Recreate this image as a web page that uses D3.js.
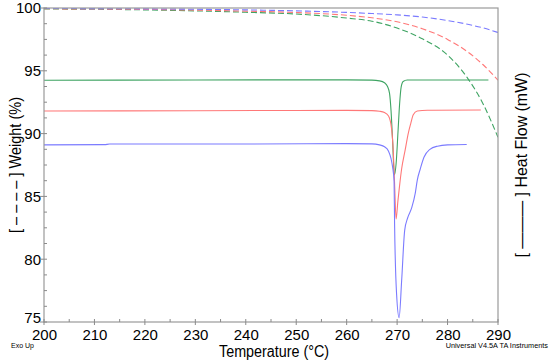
<!DOCTYPE html>
<html>
<head>
<meta charset="utf-8">
<script src="https://cdn.jsdelivr.net/npm/d3@7"></script>
<style>
  body { margin: 0; background: #fff; }
  text { font-family: "Liberation Sans", Arial, sans-serif; fill: #000; }
</style>
</head>
<body>
<svg width="550" height="360"></svg>
<script>
// weight curves (dashed)
var wT = [200, 210, 220, 230, 240, 250, 260, 265, 270, 275, 280, 284, 287, 290];
var wBlue  = [99.96, 99.95, 99.93, 99.9, 99.85, 99.77, 99.65, 99.56, 99.45, 99.28, 99.0, 98.7, 98.42, 98.05];
var wRed   = [99.94, 99.92, 99.89, 99.83, 99.75, 99.64, 99.42, 99.22, 98.9, 98.35, 97.5, 96.5, 95.5, 94.25];
var wGreen = [99.92, 99.9, 99.85, 99.77, 99.66, 99.52, 99.2, 98.95, 98.4, 97.55, 96.25, 94.4, 92.4, 89.7];

// heat flow curves (solid), drawn on the same vertical scale
var hGreenT = [200, 230, 260, 265, 266.5, 267.5, 268.1, 268.5, 268.8, 269.1, 269.45, 269.8, 270.2, 270.5, 270.8, 271.2, 272, 280, 288.1];
var hGreen  = [94.25, 94.27, 94.28, 94.26, 94.2, 94.05, 93.75, 93.2, 91.8, 89.5, 86.7, 87.6, 90.3, 92.4, 93.7, 94.15, 94.27, 94.27, 94.27];

var hRedT = [200, 230, 260, 265, 266.5, 267.5, 268.3, 268.9, 269.25, 269.5, 269.8, 270.15, 270.5, 270.9, 271.6, 272.2, 272.7, 273.2, 274, 276, 286.6];
var hRed  = [91.8, 91.82, 91.85, 91.83, 91.78, 91.68, 91.4, 90.4, 88.5, 86.0, 83.2, 84.6, 85.9, 87.2, 88.7, 90.0, 90.8, 91.5, 91.8, 91.86, 91.88];

var hBlueT = [200, 212, 213, 240, 260, 265, 266.5, 267.5, 268.3, 268.8, 269.1, 269.4, 269.5, 269.9, 270.4, 270.9, 271.5, 272.1, 272.9, 273.6, 274.0, 274.6, 275.3, 276.5, 278, 280, 283.8];
var hBlue  = [89.1, 89.12, 89.17, 89.17, 89.2, 89.18, 89.1, 88.95, 88.6, 88.0, 87.35, 86.2, 82.8, 77.2, 75.35, 78.3, 82.3, 83.3, 84.1, 85.26, 86.3, 87.2, 88.1, 88.75, 89.0, 89.1, 89.13];

var xTicks = [200, 210, 220, 230, 240, 250, 260, 270, 280, 290];
var yTicks = [75, 80, 85, 90, 95, 100];

var colBlue = "#7b7bff", colRed = "#ff7878", colGreen = "#3fa463";

var svg = d3.select("svg");
var x = d3.scaleLinear().domain([200, 290]).range([44, 498]);
var y = d3.scaleLinear().domain([75, 100]).range([322, 8]);

svg.append("clipPath").attr("id", "clip")
  .append("rect").attr("x", x(200)).attr("y", y(100)).attr("width", x(290) - x(200)).attr("height", y(75) - y(100));

var plot = svg.append("g").attr("clip-path", "url(#clip)");

function drawLine(ts, vs, color, dashed) {
  var line = d3.line()
    .x(function(d) { return x(d[0]); })
    .y(function(d) { return y(d[1]); })
    .curve(d3.curveMonotoneX);
  var p = plot.append("path")
    .datum(d3.zip(ts, vs))
    .attr("d", line)
    .attr("fill", "none")
    .attr("stroke", color)
    .attr("stroke-width", 1.1);
  if (dashed) p.attr("stroke-dasharray", "6,3");
}

drawLine(wT, wGreen, colGreen, true);
drawLine(wT, wRed, colRed, true);
drawLine(wT, wBlue, colBlue, true);
drawLine(hGreenT, hGreen, colGreen, false);
drawLine(hRedT, hRed, colRed, false);
drawLine(hBlueT, hBlue, colBlue, false);

// frame
svg.append("rect")
  .attr("x", x(200)).attr("y", y(100))
  .attr("width", x(290) - x(200)).attr("height", y(75) - y(100))
  .attr("fill", "none").attr("stroke", "#9a9a9a").attr("stroke-width", 1.2);

// axes
var xAxis = d3.axisBottom(x).tickValues(xTicks).tickSize(0).tickPadding(7);
var gx = svg.append("g").attr("transform", "translate(0," + y(75) + ")").call(xAxis);
gx.select(".domain").remove();
gx.selectAll("text").attr("font-size", "15px").attr("font-family", "Liberation Sans, Arial, sans-serif").attr("fill", "#000");

var yAxis = d3.axisLeft(y).tickValues(yTicks).tickSize(0).tickPadding(3);
var gy = svg.append("g").attr("transform", "translate(" + x(200) + ",0)").call(yAxis);
gy.select(".domain").remove();
gy.selectAll("text").attr("font-size", "15px").attr("font-family", "Liberation Sans, Arial, sans-serif").attr("fill", "#000");
// lift the bottom label so it clears "200"
gy.selectAll(".tick").filter(function(d) { return d === 75; }).select("text").attr("y", -4);

// tick marks
var tickCol = "#8a8a8a";
d3.range(200, 291, 5).forEach(function(t) {
  var major = t % 10 === 0;
  svg.append("line").attr("x1", x(t)).attr("x2", x(t))
    .attr("y1", y(75) - 3).attr("y2", y(75) + (major ? 3 : 0))
    .attr("stroke", tickCol).attr("stroke-width", 1);
});
d3.range(75, 100.01, 1.25).forEach(function(v) {
  var major = Math.abs(v % 5) < 0.01;
  svg.append("line").attr("x1", x(200) - (major ? 4 : 0)).attr("x2", x(200) + 3)
    .attr("y1", y(v)).attr("y2", y(v))
    .attr("stroke", tickCol).attr("stroke-width", 1);
});

// titles
svg.append("text")
  .attr("x", 274).attr("y", 357)
  .attr("text-anchor", "middle")
  .attr("font-size", "16px")
  .attr("textLength", 110).attr("lengthAdjust", "spacingAndGlyphs")
  .text("Temperature (°C)");

svg.append("text")
  .attr("transform", "translate(15,165) rotate(-90)")
  .attr("text-anchor", "middle")
  .attr("dominant-baseline", "central")
  .attr("font-size", "17px")
  .attr("textLength", 136).attr("lengthAdjust", "spacingAndGlyphs")
  .text("[ – – – – ] Weight (%)");

svg.append("text")
  .attr("transform", "translate(521,165) rotate(-90)")
  .attr("text-anchor", "middle")
  .attr("dominant-baseline", "central")
  .attr("font-size", "17px")
  .attr("textLength", 185).attr("lengthAdjust", "spacingAndGlyphs")
  .text("[ ——— ] Heat Flow (mW)");

svg.append("text")
  .attr("x", 11).attr("y", 348)
  .attr("font-size", "7px")
  .text("Exo Up");

svg.append("text")
  .attr("x", 548).attr("y", 348)
  .attr("text-anchor", "end")
  .attr("font-size", "7.3px")
  .text("Universal V4.5A TA Instruments");
</script>
</body>
</html>
